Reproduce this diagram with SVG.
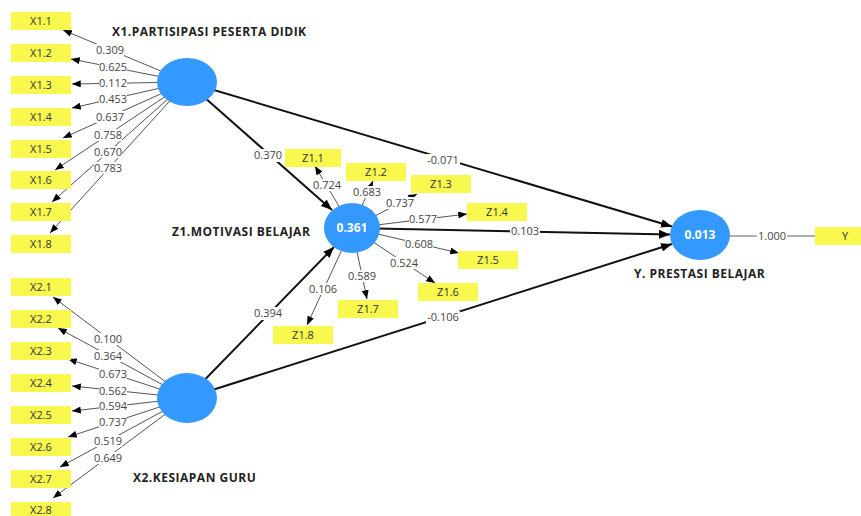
<svg xmlns="http://www.w3.org/2000/svg" width="861" height="516" viewBox="0 0 861 516">
<defs>
<marker id="ah" viewBox="0 0 10 8" refX="10" refY="4" markerWidth="9" markerHeight="7" markerUnits="userSpaceOnUse" orient="auto"><path d="M0,0 L10,4 L0,8 z" fill="#000"/></marker>
<marker id="ahb" viewBox="0 0 10 8" refX="10" refY="4" markerWidth="11" markerHeight="9" markerUnits="userSpaceOnUse" orient="auto"><path d="M0,0 L10,4 L0,8 z" fill="#000"/></marker>
</defs>
<style>
.ind{stroke:#555;stroke-width:1;fill:none;marker-end:url(#ah)}
.path{stroke:#111;stroke-width:2;fill:none;marker-end:url(#ahb)}
.plain{stroke:#666;stroke-width:1.2;fill:none}
.lb{fill:#fff}
.lbl{font-family:"Open Sans","Liberation Sans",sans-serif;font-size:11px;fill:#444;text-anchor:middle}
.box{fill:#f8f84e}
.bt{font-family:"Open Sans","Liberation Sans",sans-serif;font-size:11px;fill:#333;text-anchor:middle}
.lv{fill:#3399ff}
.lvt{font-family:"Open Sans","Liberation Sans",sans-serif;font-size:12px;font-weight:bold;fill:#fff;text-anchor:middle}
.title{font-family:"Open Sans","Liberation Sans",sans-serif;font-size:12px;font-weight:bold;letter-spacing:0.5px;fill:#222}
</style>
<rect width="861" height="516" fill="#fff"/>
<g id="connectors">
<line class="ind" x1="187" y1="82" x2="63" y2="30"/>
<line class="ind" x1="187" y1="82" x2="71" y2="59"/>
<line class="ind" x1="187" y1="82" x2="72" y2="84"/>
<line class="ind" x1="187" y1="82" x2="72" y2="108"/>
<line class="ind" x1="187" y1="82" x2="63" y2="138"/>
<line class="ind" x1="187" y1="82" x2="55" y2="170"/>
<line class="ind" x1="187" y1="82" x2="52" y2="202"/>
<line class="ind" x1="187" y1="82" x2="50" y2="233"/>
<line class="ind" x1="187" y1="398" x2="53" y2="297"/>
<line class="ind" x1="187" y1="398" x2="58" y2="328"/>
<line class="ind" x1="187" y1="398" x2="68" y2="359"/>
<line class="ind" x1="187" y1="398" x2="72" y2="386"/>
<line class="ind" x1="187" y1="398" x2="72" y2="411"/>
<line class="ind" x1="187" y1="398" x2="68" y2="437"/>
<line class="ind" x1="187" y1="398" x2="60" y2="467"/>
<line class="ind" x1="187" y1="398" x2="53" y2="498"/>
<line class="ind" x1="352" y1="228" x2="315" y2="166"/>
<line class="ind" x1="352" y1="228" x2="373" y2="181"/>
<line class="ind" x1="352" y1="228" x2="417" y2="194"/>
<line class="ind" x1="352" y1="228" x2="467" y2="214"/>
<line class="ind" x1="352" y1="228" x2="459" y2="253"/>
<line class="ind" x1="352" y1="228" x2="435" y2="283"/>
<line class="ind" x1="352" y1="228" x2="367" y2="299"/>
<line class="ind" x1="352" y1="228" x2="307" y2="325"/>
<line class="path" x1="187" y1="82" x2="332" y2="210"/>
<line class="path" x1="187" y1="398" x2="334" y2="247"/>
<line class="path" x1="187" y1="82" x2="672" y2="226.5"/>
<line class="path" x1="352" y1="228" x2="670" y2="234.5"/>
<line class="path" x1="187" y1="398" x2="672" y2="244"/>
<line class="plain" x1="700" y1="236" x2="815" y2="236"/>
<g>
<rect class="lb" x="96" y="44" width="28" height="12"/><text class="lbl" x="110" y="54">0.309</text>
<rect class="lb" x="99" y="61" width="28" height="12"/><text class="lbl" x="113" y="71">0.625</text>
<rect class="lb" x="99" y="77" width="28" height="12"/><text class="lbl" x="113" y="87">0.112</text>
<rect class="lb" x="99" y="93" width="28" height="12"/><text class="lbl" x="113" y="103">0.453</text>
<rect class="lb" x="96" y="111" width="28" height="12"/><text class="lbl" x="110" y="121">0.637</text>
<rect class="lb" x="94" y="129" width="28" height="12"/><text class="lbl" x="108" y="139">0.758</text>
<rect class="lb" x="94" y="146" width="28" height="12"/><text class="lbl" x="108" y="156">0.670</text>
<rect class="lb" x="94" y="162" width="28" height="12"/><text class="lbl" x="108" y="172">0.783</text>
<rect class="lb" x="94" y="333" width="28" height="12"/><text class="lbl" x="108" y="343">0.100</text>
<rect class="lb" x="94" y="350" width="28" height="12"/><text class="lbl" x="108" y="360">0.364</text>
<rect class="lb" x="99" y="368" width="28" height="12"/><text class="lbl" x="113" y="378">0.673</text>
<rect class="lb" x="99" y="385" width="28" height="12"/><text class="lbl" x="113" y="395">0.562</text>
<rect class="lb" x="99" y="400" width="28" height="12"/><text class="lbl" x="113" y="410">0.594</text>
<rect class="lb" x="99" y="416" width="28" height="12"/><text class="lbl" x="113" y="426">0.737</text>
<rect class="lb" x="94" y="435" width="28" height="12"/><text class="lbl" x="108" y="445">0.519</text>
<rect class="lb" x="94" y="452" width="28" height="12"/><text class="lbl" x="108" y="462">0.649</text>
<rect class="lb" x="313" y="179" width="28" height="12"/><text class="lbl" x="327" y="189">0.724</text>
<rect class="lb" x="353" y="186" width="28" height="12"/><text class="lbl" x="367" y="196">0.683</text>
<rect class="lb" x="386" y="197" width="28" height="12"/><text class="lbl" x="400" y="207">0.737</text>
<rect class="lb" x="409" y="213" width="28" height="12"/><text class="lbl" x="423" y="223">0.577</text>
<rect class="lb" x="405" y="238" width="28" height="12"/><text class="lbl" x="419" y="248">0.608</text>
<rect class="lb" x="390" y="257" width="28" height="12"/><text class="lbl" x="404" y="267">0.524</text>
<rect class="lb" x="348" y="270" width="28" height="12"/><text class="lbl" x="362" y="280">0.589</text>
<rect class="lb" x="309" y="283" width="28" height="12"/><text class="lbl" x="323" y="293">0.106</text>
<rect class="lb" x="253" y="149" width="30" height="13"/><text class="lbl" x="268" y="159">0.370</text>
<rect class="lb" x="253" y="307" width="30" height="13"/><text class="lbl" x="268" y="317">0.394</text>
<rect class="lb" x="426" y="154" width="34" height="13"/><text class="lbl" x="443" y="164">-0.071</text>
<rect class="lb" x="510" y="225" width="30" height="13"/><text class="lbl" x="525" y="235">0.103</text>
<rect class="lb" x="426" y="311" width="34" height="13"/><text class="lbl" x="443" y="321">-0.106</text>
<rect class="lb" x="757" y="230" width="30" height="13"/><text class="lbl" x="772" y="240">1.000</text>
</g>
</g>
<g id="X1.1"><rect class="box" x="11" y="12" width="60" height="18"/><text class="bt" x="41" y="25">X1.1</text></g>
<g id="X1.2"><rect class="box" x="11" y="44" width="60" height="18"/><text class="bt" x="41" y="57">X1.2</text></g>
<g id="X1.3"><rect class="box" x="11" y="76" width="60" height="18"/><text class="bt" x="41" y="89">X1.3</text></g>
<g id="X1.4"><rect class="box" x="11" y="108" width="60" height="18"/><text class="bt" x="41" y="121">X1.4</text></g>
<g id="X1.5"><rect class="box" x="11" y="140" width="60" height="18"/><text class="bt" x="41" y="153">X1.5</text></g>
<g id="X1.6"><rect class="box" x="11" y="171" width="60" height="18"/><text class="bt" x="41" y="184">X1.6</text></g>
<g id="X1.7"><rect class="box" x="11" y="203" width="60" height="18"/><text class="bt" x="41" y="216">X1.7</text></g>
<g id="X1.8"><rect class="box" x="11" y="235" width="60" height="18"/><text class="bt" x="41" y="248">X1.8</text></g>
<g id="X2.1"><rect class="box" x="11" y="278" width="60" height="18"/><text class="bt" x="41" y="291">X2.1</text></g>
<g id="X2.2"><rect class="box" x="11" y="310" width="60" height="18"/><text class="bt" x="41" y="323">X2.2</text></g>
<g id="X2.3"><rect class="box" x="11" y="342" width="60" height="18"/><text class="bt" x="41" y="355">X2.3</text></g>
<g id="X2.4"><rect class="box" x="11" y="374" width="60" height="18"/><text class="bt" x="41" y="387">X2.4</text></g>
<g id="X2.5"><rect class="box" x="11" y="406" width="60" height="18"/><text class="bt" x="41" y="419">X2.5</text></g>
<g id="X2.6"><rect class="box" x="11" y="438" width="60" height="18"/><text class="bt" x="41" y="451">X2.6</text></g>
<g id="X2.7"><rect class="box" x="11" y="470" width="60" height="18"/><text class="bt" x="41" y="483">X2.7</text></g>
<g id="X2.8"><rect class="box" x="11" y="502" width="60" height="18"/><text class="bt" x="41" y="514">X2.8</text></g>
<g id="Z1.1"><rect class="box" x="285" y="149" width="56" height="18"/><text class="bt" x="313" y="162">Z1.1</text></g>
<g id="Z1.2"><rect class="box" x="346" y="163" width="60" height="18"/><text class="bt" x="376" y="176">Z1.2</text></g>
<g id="Z1.3"><rect class="box" x="411" y="175" width="60" height="18"/><text class="bt" x="441" y="188">Z1.3</text></g>
<g id="Z1.4"><rect class="box" x="467" y="203" width="60" height="18"/><text class="bt" x="497" y="216">Z1.4</text></g>
<g id="Z1.5"><rect class="box" x="458" y="251" width="60" height="18"/><text class="bt" x="488" y="264">Z1.5</text></g>
<g id="Z1.6"><rect class="box" x="418" y="283" width="60" height="18"/><text class="bt" x="448" y="296">Z1.6</text></g>
<g id="Z1.7"><rect class="box" x="338" y="300" width="60" height="18"/><text class="bt" x="368" y="313">Z1.7</text></g>
<g id="Z1.8"><rect class="box" x="273" y="326" width="60" height="18"/><text class="bt" x="303" y="339">Z1.8</text></g>
<g id="Y_ind"><rect class="box" x="815" y="227" width="60" height="18"/><text class="bt" x="845" y="240">Y</text></g>
<g id="X1"><ellipse class="lv" cx="187" cy="82" rx="30" ry="24"/><text class="title" x="112" y="36">X1.PARTISIPASI PESERTA DIDIK</text></g>
<g id="X2"><ellipse class="lv" cx="187" cy="398" rx="30" ry="25"/><text class="title" x="133" y="482">X2.KESIAPAN GURU</text></g>
<g id="Z1"><ellipse class="lv" cx="352" cy="228" rx="28" ry="25"/><text class="lvt" x="352" y="232">0.361</text><text class="title" x="172" y="236">Z1.MOTIVASI BELAJAR</text></g>
<g id="Y"><ellipse class="lv" cx="700" cy="235" rx="30" ry="25"/><text class="lvt" x="700" y="239">0.013</text><text class="title" x="634" y="278">Y. PRESTASI BELAJAR</text></g>
</svg>
